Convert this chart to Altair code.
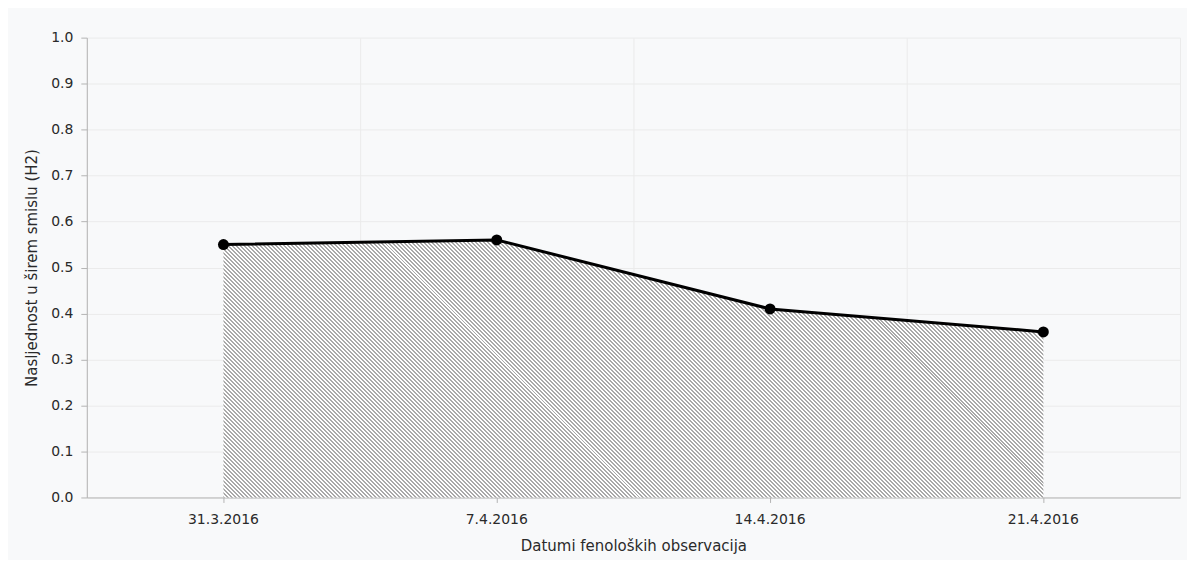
import altair as alt
import pandas as pd

# ---- data ----
dates = ["31.3.2016", "7.4.2016", "14.4.2016", "21.4.2016"]
h2 = [0.55, 0.56, 0.41, 0.36]
y_ticks = [0.0, 0.1, 0.2, 0.3, 0.4, 0.5, 0.6, 0.7, 0.8, 0.9, 1.0]

df = pd.DataFrame({"datum": dates, "h2": h2})

W, H = 1096, 461
FONT = "DejaVu Sans"
TXT = "#2a2a2a"
AXC = "#b4b4b4"
GRID = "#ebebeb"
BG = "#f8f9fa"

# ---- diagonal hatch as a striped linear gradient (style only) ----
step = W / len(dates)
aw = step * (len(dates) - 1)          # pixel width of the area box
ah = H * max(h2) / 1.0                # pixel height of the area box
k = (aw + ah) * aw / (aw ** 2 + ah ** 2)
period = 4.0
n = int(round((aw + ah) / period))
dark, light = "#a9a9a9", "#ffffff"
stops = []
for i in range(n):
    a = i / n
    m = (i + 0.5) / n
    b = (i + 1) / n
    stops += [
        alt.GradientStop(offset=a, color=dark),
        alt.GradientStop(offset=m, color=dark),
        alt.GradientStop(offset=m, color=light),
        alt.GradientStop(offset=b, color=light),
    ]
hatch = alt.Gradient(gradient="linear", stops=stops, x1=0, y1=1, x2=k, y2=1 - k * ah / aw)

yaxis = alt.Axis(values=y_ticks, format=".1f", grid=True, gridColor=GRID, tickSize=6,
                 tickColor=AXC, domainColor=AXC, labelPadding=8, labelFontSize=14,
                 labelFont=FONT, labelColor=TXT, title="Nasljednost u širem smislu (H2)",
                 titleFont=FONT, titleFontSize=15, titleFontWeight="normal", titleColor=TXT,
                 titlePadding=11)
yenc = alt.Y("h2:Q", scale=alt.Scale(domain=[0, 1], nice=False, zero=True), axis=yaxis)

xscale = alt.Scale(type="band", paddingInner=0, paddingOuter=0)

grid_axis = alt.Axis(orient="bottom", grid=True, gridColor=GRID, tickBand="extent", labels=False,
                     ticks=False, domain=False, title=None)
main_axis = alt.Axis(orient="bottom", grid=False, labelAngle=0, tickSize=5, tickColor=AXC,
                     domainColor=AXC, labelPadding=10, labelFontSize=14, labelFont=FONT,
                     labelColor=TXT, title="Datumi fenoloških observacija", titleFont=FONT,
                     titleFontSize=15, titleFontWeight="normal", titleColor=TXT, titlePadding=12)

area = alt.Chart(df).mark_area(fill=hatch, stroke=None, opacity=1).encode(
    x=alt.X("datum:N", sort=dates, scale=xscale, axis=grid_axis, bandPosition=0.5),
    y=yenc,
)

line = alt.Chart(df).mark_line(color="black", strokeWidth=3).encode(
    x=alt.X("datum:N", sort=dates, scale=xscale, axis=main_axis, bandPosition=0.5),
    y=yenc,
)

pts = alt.Chart(df).mark_point(filled=True, color="black", size=120, opacity=1).encode(
    x=alt.X("datum:N", sort=dates, scale=xscale, axis=main_axis, bandPosition=0.5),
    y=yenc,
)

chart = (
    alt.layer(area, line + pts)
    .resolve_axis(x="independent")
    .properties(
        width=W,
        height=H,
        autosize=alt.AutoSizeParams(type="none"),
        padding={"left": 79, "top": 29, "right": 7, "bottom": 62},
        background=BG,
    )
    .configure_view(stroke=None)
)

chart.save("out.html", embed_options={"renderer": "svg", "actions": False})
